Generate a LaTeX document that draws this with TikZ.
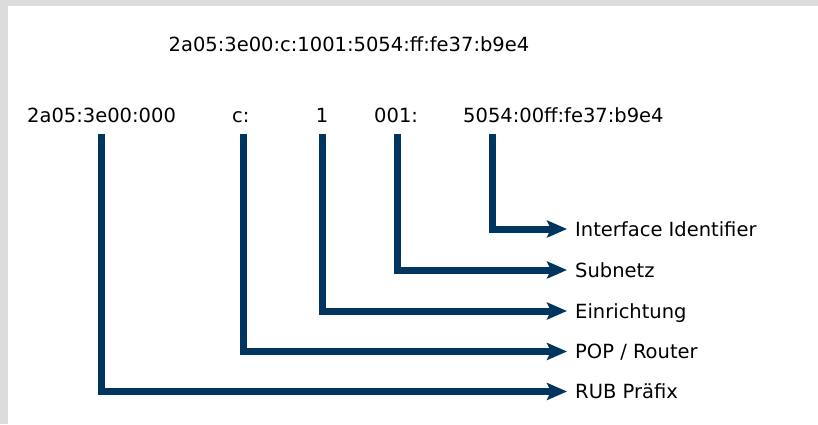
\documentclass[tikz,border=0pt]{standalone}
\usepackage{fontspec}
\setmainfont{DejaVu Sans}
\usetikzlibrary{arrows.meta}
\definecolor{rubblue}{HTML}{003560}
\definecolor{framegray}{HTML}{DCDCDC}
\tikzset{
  addr/.style={font=\fontsize{19.5}{23}\selectfont, inner sep=0pt, anchor=base west},
  meaning/.style={font=\fontsize{19.5}{23}\selectfont, anchor=west, inner xsep=8pt, inner ysep=0pt, text height=14pt, text depth=0pt},
  branch/.style={draw=rubblue, line width=7pt, -{Stealth[length=20pt, width=17pt, inset=4pt]}}
}
\newcommand{\branchto}[2]{\draw[branch] (#1) |- (#2.west);}

\begin{document}
\begin{tikzpicture}[x=1pt, y=-1pt]
        \useasboundingbox (0,0) rectangle (818,424);
        % frame
        \fill[framegray] (0,0) rectangle (818,424);
        \fill[white] (8,6) rectangle (818,424);
        % full address
        \node[addr, anchor=base] (full) at (349,51) {2a05:3e00:c:1001:5054:ff:fe37:b9e4};
        % split address
        \node[addr] (pfx) at (27,122) {2a05:3e00:000};
        \node[addr] (pop) at (232,122) {c:};
        \node[addr, anchor=base] (inst) at (322,122) {1};
        \node[addr] (sub) at (374,122) {001:};
        \node[addr] (iid) at (463,122) {5054:00ff:fe37:b9e4};
        % line tops
        \coordinate (tpfx) at (101.5,134);
        \coordinate (tpop) at (243.5,134);
        \coordinate (tinst) at (322.5,134);
        \coordinate (tsub) at (397,134);
        \coordinate (tiid) at (492.5,134);
        % meanings
        \node[meaning] (miid) at (567,229) {Interface Identifier};
        \node[meaning] (msub) at (567,270) {Subnetz};
        \node[meaning] (minst) at (567,311) {Einrichtung};
        \node[meaning] (mpop) at (567,351.5) {POP / Router};
        \node[meaning] (mpfx) at (567,391.5) {RUB Präfix};
        % branches
        \branchto{tiid}{miid}
        \branchto{tsub}{msub}
        \branchto{tinst}{minst}
        \branchto{tpop}{mpop}
        \branchto{tpfx}{mpfx}
    \end{tikzpicture}
\end{document}
